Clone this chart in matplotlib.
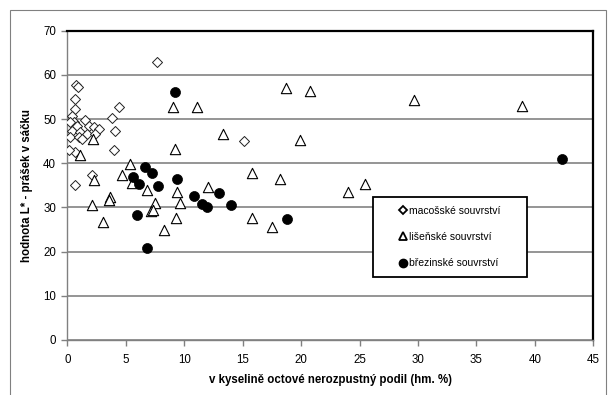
import matplotlib
matplotlib.use("Agg")
import matplotlib.pyplot as plt
from matplotlib.patches import Rectangle
from matplotlib.lines import Line2D

plt.rcParams['font.family'] = ['Liberation Sans', 'DejaVu Sans']

# macošské souvrství (diamonds)
mac_x = [7.65, 0.74, 0.89, 0.69, 0.69, 4.45, 3.82, 0.40, 0.55, 4.10, 0.26, 0.83,
         1.54, 1.83, 2.26, 2.69, 0.40, 1.11, 1.69, 2.40, 0.26, 0.98, 1.26, 0.68,
         0.12, 3.97, 2.11, 0.68, 15.1]
mac_y = [63.0, 57.6, 57.2, 54.6, 52.3, 52.7, 50.2, 50.8, 49.3, 47.4, 49.3, 48.5,
         49.7, 48.5, 48.1, 47.8, 47.4, 47.0, 46.7, 46.7, 45.9, 45.9, 45.5, 42.5,
         42.9, 42.9, 37.3, 35.0, 45.0]

# lišeňské souvrství (triangles)
lis_x = [1.09, 2.22, 2.31, 2.09, 3.65, 3.59, 3.08, 4.65, 5.36, 5.56, 6.84, 7.50,
         7.13, 7.30, 8.27, 9.07, 9.21, 9.36, 9.64, 9.30, 11.12, 12.06, 13.35, 15.83,
         15.83, 17.50, 18.20, 18.70, 19.90, 20.80, 24.04, 25.5, 29.7, 38.9]
lis_y = [41.8, 45.5, 36.1, 30.5, 32.4, 31.6, 26.7, 37.3, 39.9, 35.5, 33.9, 31.0,
         29.3, 29.5, 24.8, 52.7, 43.3, 33.5, 31.0, 27.5, 52.7, 34.6, 46.7, 37.7,
         27.7, 25.6, 36.5, 57.0, 45.2, 56.4, 33.5, 35.2, 54.4, 53.0]

# březinské souvrství (filled circles)
bre_x = [9.21, 6.65, 7.22, 5.65, 6.13, 7.73, 9.36, 5.94, 6.84, 10.84, 11.50,
         11.92, 13.0, 14.0, 18.8, 42.3]
bre_y = [56.2, 39.2, 37.7, 36.9, 35.3, 34.8, 36.5, 28.4, 20.9, 32.7, 30.7,
         30.0, 33.3, 30.6, 27.3, 41.0]

labels = ['macošské souvrství', 'lišeňské souvrství', 'březinské souvrství']
x_ticks = [0, 5, 10, 15, 20, 25, 30, 35, 40, 45]
y_ticks = [0, 10, 20, 30, 40, 50, 60, 70]

W, H = 609, 395
fig = plt.figure(figsize=(W / 100, H / 100), dpi=100)

# outer chart border
fig.add_artist(Rectangle((10 / W, -0.01), (W - 13) / W, 1 - 10 / H + 0.01,
                         transform=fig.transFigure, fill=False,
                         edgecolor='#808080', linewidth=0.8))

L, R, T, B = 67.3, 593.3, 30.7, 340.0
ax = fig.add_axes([L / W, 1 - B / H, (R - L) / W, (B - T) / H])

ax.set_xlim(0, 45)
ax.set_ylim(0, 70)
ax.set_xticks(x_ticks)
ax.set_yticks(y_ticks)
ax.yaxis.grid(True, color='#8c8c8c', linewidth=1.3)
ax.set_axisbelow(True)

for s in ['left', 'bottom']:
    ax.spines[s].set_color('#808080')
    ax.spines[s].set_linewidth(1.0)
for s in ['right', 'top']:
    ax.spines[s].set_color('black')
    ax.spines[s].set_linewidth(1.6)

ax.tick_params(direction='out', length=4, width=1.0, color='#808080',
               labelsize=8.3, pad=4)
ax.tick_params(axis='x', pad=6)

ax.scatter(mac_x, mac_y, marker='D', s=26, facecolors='white',
           edgecolors='#222222', linewidths=0.7, zorder=3)
ax.scatter(lis_x, lis_y, marker='^', s=55, facecolors='white',
           edgecolors='black', linewidths=0.8, zorder=4)
ax.scatter(bre_x, bre_y, marker='o', s=52, facecolors='black',
           edgecolors='black', linewidths=0.5, zorder=5)

ax.set_xlabel('v kyselině octové nerozpustný podil (hm. %)', fontsize=8.3,
              fontweight='bold', labelpad=6)
ax.set_ylabel('hodnota L* - prášek v sáčku', fontsize=8.3, fontweight='bold')
ax.yaxis.set_label_coords(-0.066, 0.5)

# legend box
lx0, lx1, ly0, ly1 = 373, 527, 196.7, 277.3
to_ax = lambda px, py: ((px - L) / (R - L), (B - py) / (B - T))
(ax0, ay1) = to_ax(lx0, ly0)
(ax1, ay0) = to_ax(lx1, ly1)
ax.add_patch(Rectangle((ax0, ay0), ax1 - ax0, ay1 - ay0, transform=ax.transAxes,
                       facecolor='white', edgecolor='black', linewidth=1.3,
                       zorder=6))
handles = [
    Line2D([], [], linestyle='none', marker='D', markersize=4.5,
           markerfacecolor='white', markeredgecolor='black', markeredgewidth=1.3),
    Line2D([], [], linestyle='none', marker='^', markersize=5.5,
           markerfacecolor='white', markeredgecolor='black', markeredgewidth=1.3),
    Line2D([], [], linestyle='none', marker='o', markersize=6,
           markerfacecolor='black', markeredgecolor='black'),
]
leg = ax.legend(handles, labels, loc='center',
                bbox_to_anchor=((ax0 + ax1) / 2, (ay0 + ay1) / 2),
                bbox_transform=ax.transAxes, frameon=False, fontsize=7.5,
                handlelength=0.8, handletextpad=0.2, labelspacing=1.55,
                borderpad=0.0)
leg.set_zorder(7)

fig.savefig('out.png', dpi=100)
